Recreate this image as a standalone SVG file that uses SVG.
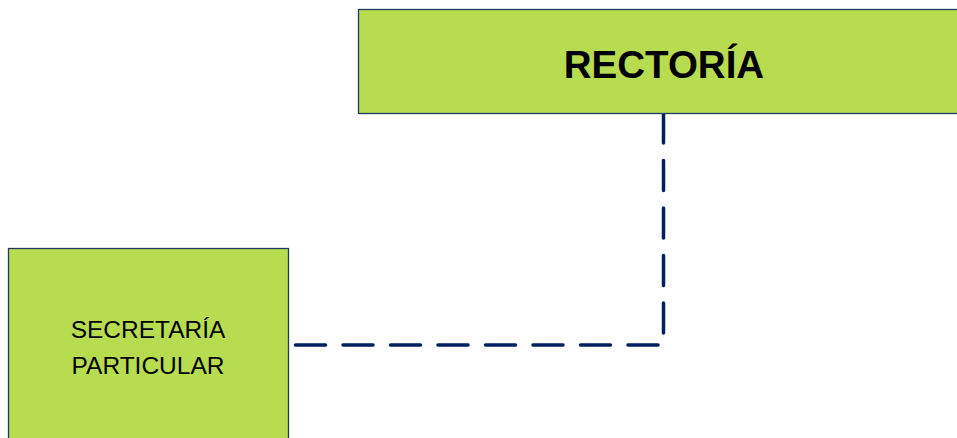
<svg xmlns="http://www.w3.org/2000/svg" width="957" height="438" viewBox="0 0 957 438">
<style>
.box{fill:#b8dc50;stroke:#1f3864;stroke-width:1.3}
.conn{fill:none;stroke:#002060;stroke-width:3.5;stroke-linecap:round;stroke-dasharray:30 17.5}
.t{font-family:"Liberation Sans",Arial,sans-serif;fill:#000;text-anchor:middle}
</style>
<rect width="957" height="438" fill="#fff"/>
<g id="connectors">
<path class="conn" d="M663.5,113 V345 H293"/>
</g>
<g id="rectoria">
<rect class="box" x="358.5" y="9.5" width="620" height="104"/>
<text class="t" x="664" y="78" font-size="38.5" font-weight="bold">RECTORÍA</text>
</g>
<g id="secretaria">
<rect class="box" x="8.5" y="248.5" width="280" height="200"/>
<text class="t" x="148" y="338" font-size="24.5">SECRETARÍA</text>
<text class="t" x="148" y="374" font-size="24.5">PARTICULAR</text>
</g>
</svg>
